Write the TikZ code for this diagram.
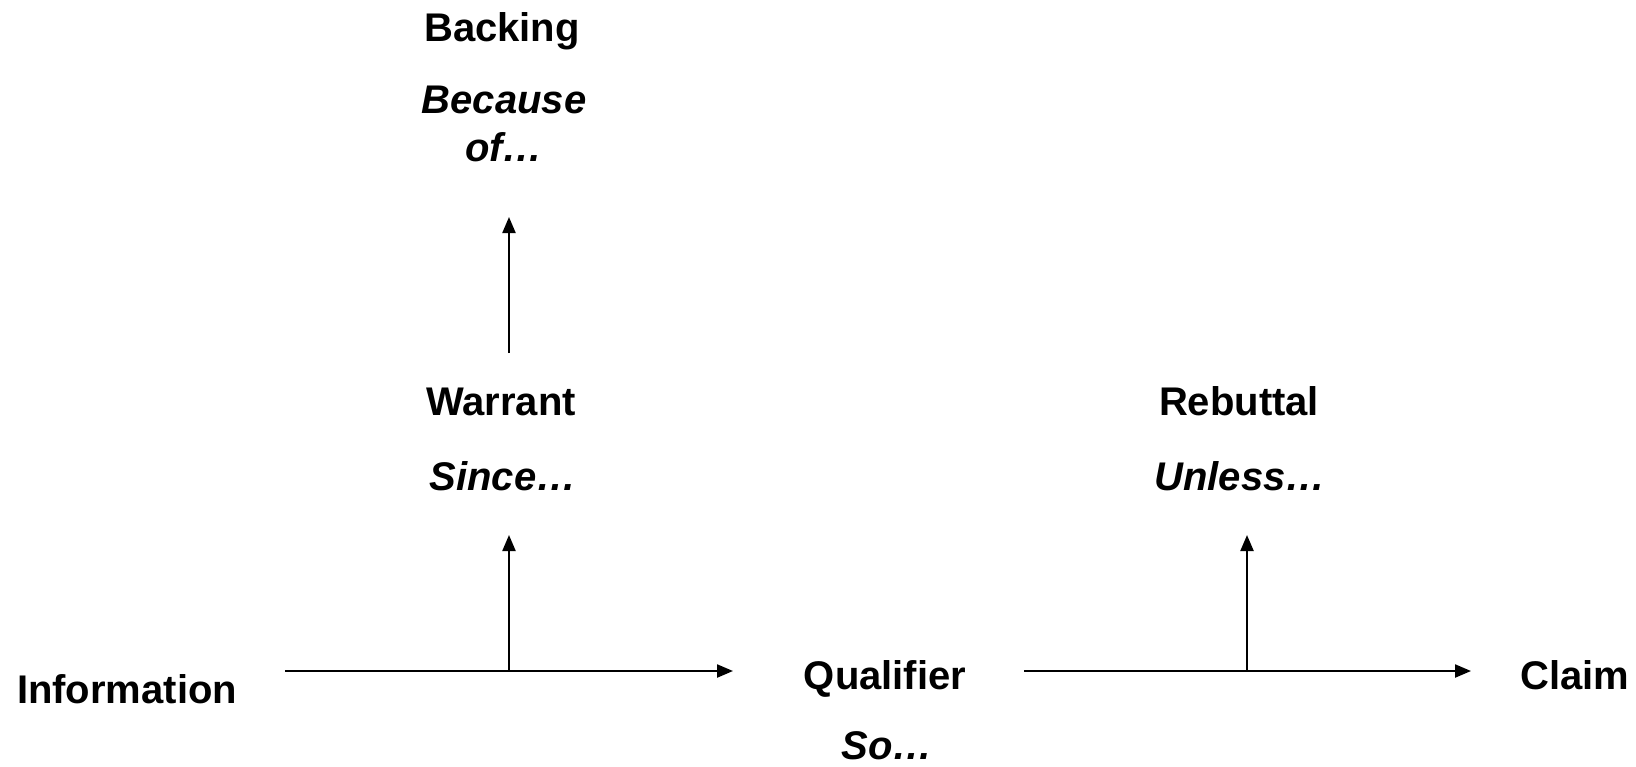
\documentclass[tikz,border=0pt]{standalone}
\usepackage{fontspec}
\setmainfont{Liberation Sans}
\usetikzlibrary{arrows.meta}
\begin{document}
\begin{tikzpicture}[x=0.5pt,y=-0.5pt,
  lbl/.style={font=\fontsize{20}{24}\selectfont\bfseries, inner sep=0pt, anchor=base, align=center},
  ilbl/.style={lbl, font=\fontsize{20}{24}\selectfont\bfseries\itshape},
  arr/.style={line width=1.1pt, -{Triangle[length=8pt,width=6.5pt]}}]
\useasboundingbox (0,0) rectangle (1636,766);
% labels
\node[lbl] (backing) at (502,41) {Backing};
\node[ilbl] (because) at (504,161) {Because\\of…};
\node[lbl] (warrant) at (501,415) {Warrant};
\node[ilbl] (since) at (503,490) {Since…};
\node[lbl] (rebuttal) at (1239,415) {Rebuttal};
\node[ilbl] (unless) at (1240,490) {Unless…};
\node[lbl] (information) at (127,703) {Information};
\node[lbl] (qualifier) at (885,689) {Qualifier};
\node[ilbl] (so) at (887,759) {So…};
\node[lbl] (claim) at (1575,689) {Claim};
% connector points
\coordinate (h1s) at (285,671);
\coordinate (h1e) at (733,671);
\coordinate (w0) at (509,671);
\coordinate (w1) at (509,535);
\coordinate (b0) at (509,353);
\coordinate (b1) at (509,217);
\coordinate (h2s) at (1024,671);
\coordinate (h2e) at (1471,671);
\coordinate (r0) at (1247,671);
\coordinate (r1) at (1247,535);
% connectors
\draw[arr] (h1s) -- (h1e);
\draw[arr] (w0) -- (w1);
\draw[arr] (b0) -- (b1);
\draw[arr] (h2s) -- (h2e);
\draw[arr] (r0) -- (r1);
\end{tikzpicture}
\end{document}
